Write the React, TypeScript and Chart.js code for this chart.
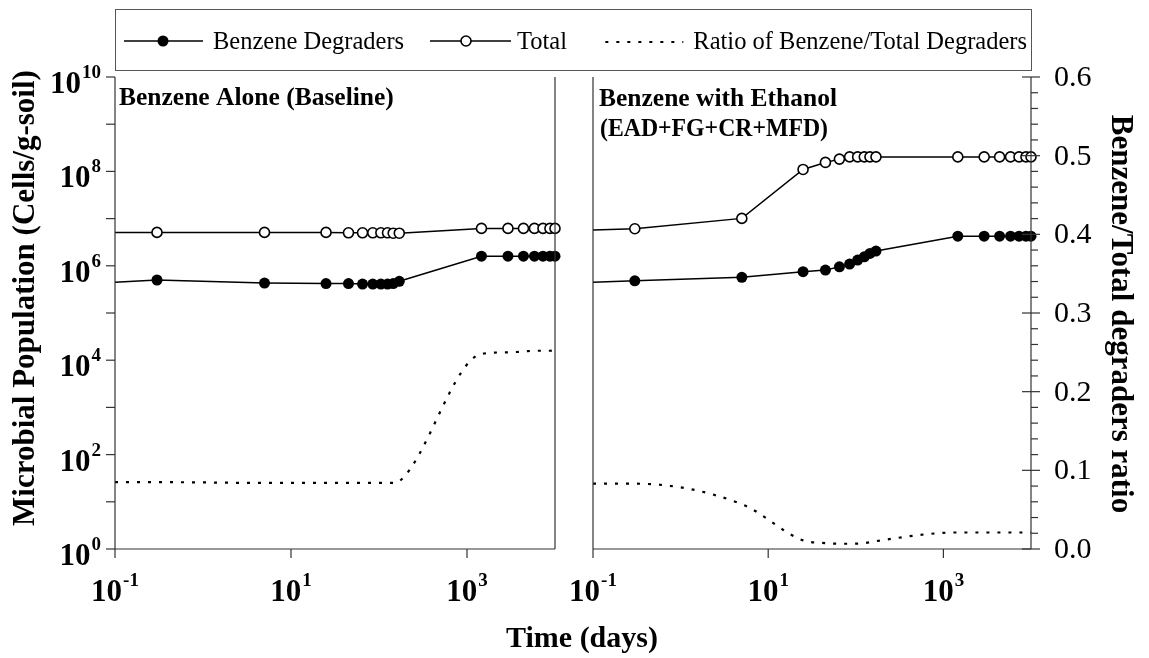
import React, { useEffect, useRef } from "react";
import { Chart, registerables } from "chart.js";

Chart.register(...registerables);

const W = 1149;
const H = 658;

// Time (days) of each sample; the first entry is the starting value at the left axis
const times = [0.1, 0.3, 5, 25, 45, 65, 85, 105, 125, 145, 170, 1460, 2920, 4380, 5840, 7300, 8760, 10000];

// Benzene Alone (Baseline)
const baselineTotal = [5.1e6, 5.1e6, 5.1e6, 5.1e6, 5.0e6, 5.0e6, 5.0e6, 5.0e6, 5.0e6, 4.9e6, 4.9e6, 6.2e6, 6.2e6, 6.2e6, 6.2e6, 6.2e6, 6.2e6, 6.2e6];
const baselineDegraders = [4.5e5, 5.0e5, 4.3e5, 4.2e5, 4.2e5, 4.1e5, 4.1e5, 4.1e5, 4.1e5, 4.2e5, 4.7e5, 1.6e6, 1.6e6, 1.6e6, 1.6e6, 1.6e6, 1.6e6, 1.6e6];
const baselineRatio = [0.085, 0.085, 0.084, 0.084, 0.084, 0.084, 0.084, 0.084, 0.084, 0.084, 0.086, 0.248, 0.25, 0.251, 0.252, 0.252, 0.252, 0.253];

// Benzene with Ethanol (EAD+FG+CR+MFD)
const ethanolTotal = [5.7e6, 6.1e6, 1.01e7, 1.1e8, 1.55e8, 1.82e8, 2.03e8, 2.03e8, 2.03e8, 2.03e8, 2.03e8, 2.03e8, 2.03e8, 2.03e8, 2.03e8, 2.03e8, 2.03e8, 2.03e8];
const ethanolDegraders = [4.5e5, 4.8e5, 5.7e5, 7.5e5, 8.1e5, 9.5e5, 1.09e6, 1.32e6, 1.55e6, 1.83e6, 2.05e6, 4.25e6, 4.25e6, 4.25e6, 4.25e6, 4.25e6, 4.25e6, 4.25e6];
const ethanolRatio = [0.083, 0.083, 0.057, 0.011, 0.0075, 0.0067, 0.0067, 0.0068, 0.0075, 0.0085, 0.01, 0.021, 0.021, 0.021, 0.021, 0.021, 0.021, 0.021];

// Axis ticks
const xTickValues = [0.1, 10, 1000];
const xTickExponents = ["-1", "1", "3"];
const yDecades = [0, 1, 2, 3, 4, 5, 6, 7, 8, 9, 10];
const ratioTicks = [0, 0.1, 0.2, 0.3, 0.4, 0.5, 0.6];

const legendLabels = ["Benzene Degraders", "Total", "Ratio of Benzene/Total Degraders"];
const panelTitles = ["Benzene Alone (Baseline)", "Benzene with Ethanol", "(EAD+FG+CR+MFD)"];
const xTitle = "Time (days)";
const yTitle = "Microbial Population (Cells/g-soil)";
const y2Title = "Benzene/Total degraders ratio";

const SERIF = '"Liberation Serif", "Times New Roman", Times, serif';
const AXIS_COLOR = "#333";

function drawPow(ctx: CanvasRenderingContext2D, exp: string, x: number, y: number, align: "center" | "right") {
  const baseFont = `bold 31px ${SERIF}`;
  const expFont = `bold 19px ${SERIF}`;
  ctx.font = baseFont;
  const wb = ctx.measureText("10").width;
  ctx.font = expFont;
  const we = ctx.measureText(exp).width;
  const total = wb + we + 1;
  const x0 = align === "center" ? x - total / 2 : x - total;
  ctx.textAlign = "left";
  ctx.textBaseline = "alphabetic";
  ctx.fillStyle = "#000";
  ctx.font = baseFont;
  ctx.fillText("10", x0, y);
  ctx.font = expFont;
  ctx.fillText(exp, x0 + wb + 1, y - 15);
}

function line(ctx: CanvasRenderingContext2D, x1: number, y1: number, x2: number, y2: number) {
  ctx.beginPath();
  ctx.moveTo(x1, y1);
  ctx.lineTo(x2, y2);
  ctx.stroke();
}

function makeOverlay(isLeft: boolean) {
  return {
    id: "overlay" + (isLeft ? "L" : "R"),
    afterDraw(chart: any) {
      const ctx: CanvasRenderingContext2D = chart.ctx;
      const { left, right, top, bottom } = chart.chartArea;
      const xs = chart.scales.x;
      const ys = chart.scales.y;
      const y2s = chart.scales.y2;
      ctx.save();
      // frame lines
      ctx.strokeStyle = AXIS_COLOR;
      ctx.lineWidth = 1.2;
      ctx.setLineDash([]);
      line(ctx, left, top, left, bottom);
      line(ctx, right, top, right, bottom);
      line(ctx, left, bottom, right, bottom);

      // x ticks and labels
      xTickValues.forEach((v, i) => {
        const px = xs.getPixelForValue(v);
        line(ctx, px, bottom, px, bottom + 9);
        drawPow(ctx, xTickExponents[i], px, 601, "center");
      });

      if (isLeft) {
        // left log axis
        yDecades.forEach((e) => {
          const py = ys.getPixelForValue(Math.pow(10, e));
          line(ctx, left - 9, py, left, py);
          if (e % 2 === 0) drawPow(ctx, String(e), 101, py + 16, "right");
        });
        // panel title
        ctx.fillStyle = "#000";
        ctx.textAlign = "left";
        ctx.textBaseline = "alphabetic";
        ctx.font = `bold 25.5px ${SERIF}`;
        ctx.fillText(panelTitles[0], 119, 105);

        // y title
        ctx.save();
        ctx.translate(34, 298);
        ctx.rotate(-Math.PI / 2);
        ctx.textAlign = "center";
        ctx.font = `bold 31px ${SERIF}`;
        ctx.fillText(yTitle, 0, 0);
        ctx.restore();

        // x title
        ctx.textAlign = "center";
        ctx.font = `bold 30px ${SERIF}`;
        ctx.fillText(xTitle, 582, 647);

        // legend box
        ctx.strokeStyle = "#555";
        ctx.lineWidth = 1;
        ctx.strokeRect(115.5, 9.5, 916, 61);
        const ly = 41;
        ctx.strokeStyle = "#000";
        ctx.lineWidth = 1.5;
        ctx.font = `24.5px ${SERIF}`;
        ctx.textAlign = "left";
        ctx.fillStyle = "#000";
        // item 1
        line(ctx, 124, ly, 203, ly);
        ctx.beginPath();
        ctx.arc(163, ly, 5.5, 0, Math.PI * 2);
        ctx.fill();
        ctx.fillText(legendLabels[0], 213, 49);
        // item 2
        line(ctx, 430, ly, 511, ly);
        ctx.beginPath();
        ctx.arc(466, ly, 5, 0, Math.PI * 2);
        ctx.fillStyle = "#fff";
        ctx.fill();
        ctx.lineWidth = 1.6;
        ctx.stroke();
        ctx.fillStyle = "#000";
        ctx.fillText(legendLabels[1], 517, 49);
        // item 3
        ctx.textAlign = "right";
        const w3 = ctx.measureText(legendLabels[2]).width;
        const tx = 1027;
        ctx.fillText(legendLabels[2], tx, 49);
        ctx.setLineDash([3, 8]);
        ctx.lineWidth = 2.2;
        line(ctx, tx - w3 - 88, ly + 1, tx - w3 - 10, ly + 1);
        ctx.setLineDash([]);
      } else {
        // ratio axis
        for (let k = 0; k <= 30; k++) {
          const v = k * 0.02;
          const py = y2s.getPixelForValue(v);
          if (k % 5 === 0) line(ctx, right - 9, py, right + 9, py);
          else line(ctx, right, py, right + 7, py);
        }
        ctx.fillStyle = "#000";
        ctx.font = `30px ${SERIF}`;
        ctx.textAlign = "left";
        ctx.textBaseline = "middle";
        ratioTicks.forEach((v) => {
          const py = y2s.getPixelForValue(v);
          ctx.fillText(v.toFixed(1), 1054, py + 1);
        });
        ctx.textBaseline = "alphabetic";
        // panel titles
        ctx.font = `bold 25.5px ${SERIF}`;
        ctx.fillText(panelTitles[1], 599, 106);
        ctx.fillText(panelTitles[2], 600, 136, 228);
        // y2 title
        ctx.save();
        ctx.translate(1112, 314);
        ctx.rotate(Math.PI / 2);
        ctx.textAlign = "center";
        ctx.font = `bold 31px ${SERIF}`;
        ctx.fillText(y2Title, 0, 0);
        ctx.restore();
      }
      ctx.restore();
    },
  };
}

function makeConfig(isLeft: boolean): any {
  const total = isLeft ? baselineTotal : ethanolTotal;
  const degr = isLeft ? baselineDegraders : ethanolDegraders;
  const ratio = isLeft ? baselineRatio : ethanolRatio;
  const openR = times.map((_, i) => (i === 0 ? 0 : 5));
  const fillR = times.map((_, i) => (i === 0 ? 0 : 5.5));
  return {
    type: "line",
    data: {
      datasets: [
        {
          label: legendLabels[1],
          data: times.map((t, i) => ({ x: t, y: total[i] })),
          yAxisID: "y",
          borderColor: "#000",
          borderWidth: 1.5,
          pointRadius: openR,
          pointBackgroundColor: "#fff",
          pointBorderColor: "#000",
          pointBorderWidth: 1.6,
          tension: 0,
          clip: false,
        },
        {
          label: legendLabels[0],
          data: times.map((t, i) => ({ x: t, y: degr[i] })),
          yAxisID: "y",
          borderColor: "#000",
          borderWidth: 1.5,
          pointRadius: fillR,
          pointBackgroundColor: "#000",
          pointBorderColor: "#000",
          pointBorderWidth: 0,
          tension: 0,
          clip: false,
        },
        {
          label: legendLabels[2],
          data: times.map((t, i) => ({ x: t, y: ratio[i] })),
          yAxisID: "y2",
          borderColor: "#000",
          borderWidth: 2.2,
          borderDash: [3, 8],
          pointRadius: 0,
          cubicInterpolationMode: "monotone",
          clip: false,
        },
      ],
    },
    options: {
      animation: false,
      responsive: false,
      events: [],
      layout: {
        padding: isLeft
          ? { left: 115, right: W - 555, top: 77, bottom: H - 549 }
          : { left: 593, right: W - 1031, top: 77, bottom: H - 549 },
      },
      plugins: { legend: { display: false }, tooltip: { enabled: false }, title: { display: false } },
      scales: {
        x: { type: "logarithmic", min: 0.1, max: 10000, display: false },
        y: { type: "logarithmic", min: 1, max: 1e10, display: false },
        y2: { type: "linear", min: 0, max: 0.6, display: false, position: "right" },
      },
    },
    plugins: [makeOverlay(isLeft)],
  };
}

export default function App() {
  const leftRef = useRef<HTMLCanvasElement>(null);
  const rightRef = useRef<HTMLCanvasElement>(null);
  useEffect(() => {
    const c1 = new Chart(leftRef.current as HTMLCanvasElement, makeConfig(true));
    const c2 = new Chart(rightRef.current as HTMLCanvasElement, makeConfig(false));
    return () => {
      c1.destroy();
      c2.destroy();
    };
  }, []);
  return (
    <div style={{ position: "absolute", left: 0, top: 0, width: W, height: H, background: "#fff" }}>
      <canvas ref={leftRef} width={W} height={H} style={{ position: "absolute", left: 0, top: 0 }} />
      <canvas ref={rightRef} width={W} height={H} style={{ position: "absolute", left: 0, top: 0 }} />
    </div>
  );
}
